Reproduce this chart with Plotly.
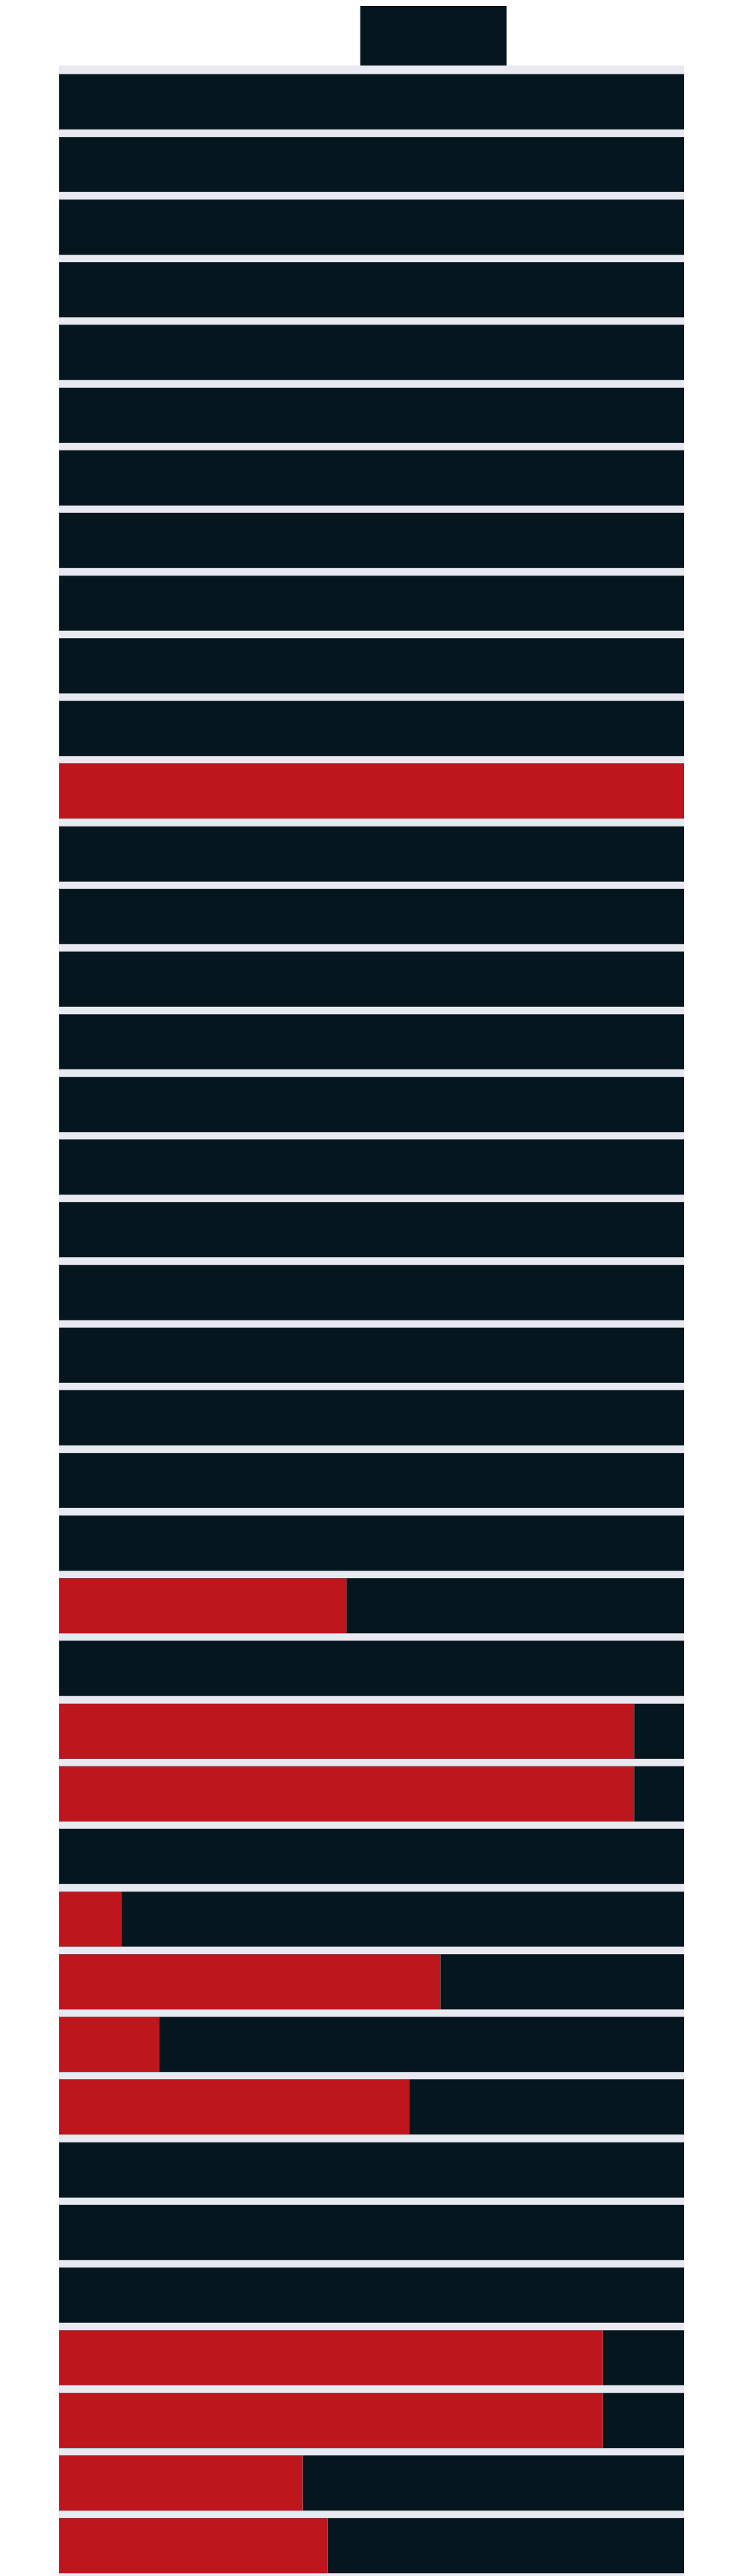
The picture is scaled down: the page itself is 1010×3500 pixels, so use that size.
import plotly.graph_objects as go

categories = [f"Row {i}" for i in range(1, 41)]

red_share = [0, 0, 0, 0, 0, 0, 0, 0, 0, 0,
             0, 100, 0, 0, 0, 0, 0, 0, 0, 0,
             0, 0, 0, 0, 46, 0, 92, 92, 0, 10,
             61, 16, 56, 0, 0, 0, 87, 87, 39, 43]

dark_share = [100, 100, 100, 100, 100, 100, 100, 100, 100, 100,
              100, 0, 100, 100, 100, 100, 100, 100, 100, 100,
              100, 100, 100, 100, 54, 100, 8, 8, 100, 90,
              39, 84, 44, 100, 100, 100, 13, 13, 61, 57]

RED = "#BE161D"
DARK = "#06161E"
BG = "#E9E9F1"

fig = go.Figure()
fig.add_trace(go.Bar(
    y=categories, x=red_share, orientation="h", name="A",
    marker=dict(color=RED, line=dict(color="rgba(110,120,125,0.7)", width=0.6)),
))
fig.add_trace(go.Bar(
    y=categories, x=dark_share, orientation="h", name="B",
    marker=dict(color=DARK, line=dict(color="rgba(110,120,125,0.7)", width=0.6)),
))

n = len(categories)
fig.update_layout(
    barmode="stack",
    bargap=0.12,
    width=1010,
    height=3502,
    margin=dict(l=72, r=88, t=81, b=0, pad=0),
    paper_bgcolor="white",
    plot_bgcolor=BG,
    showlegend=False,
    xaxis=dict(range=[0, 100], showticklabels=False, showgrid=False,
               zeroline=False, ticks=""),
    yaxis=dict(type="category", categoryorder="array", categoryarray=categories,
               range=[n - 0.4, -0.58], showticklabels=False, showgrid=False,
               zeroline=False, ticks=""),
    shapes=[dict(type="rect", xref="paper", yref="paper",
                 x0=0.482, x1=0.716, y0=1.0, y1=1.04,
                 fillcolor=DARK, line=dict(width=0), layer="above")],
)

fig.write_html("out.html")
